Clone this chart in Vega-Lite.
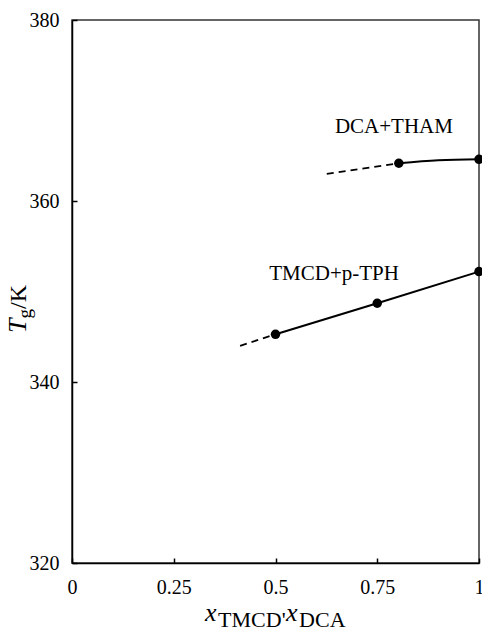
{
  "$schema": "https://vega.github.io/schema/vega-lite/v6.json",
  "width": 407,
  "height": 543,
  "autosize": {"type": "none"},
  "padding": {"left": 72, "top": 20, "right": 3, "bottom": 70},
  "background": "white",
  "config": {
    "font": "Liberation Serif, Times New Roman, serif",
    "view": {"stroke": "#333333", "strokeWidth": 1.5},
    "text": {"font": "Liberation Serif, Times New Roman, serif", "color": "black"}
  },
  "datasets": {
    "measured": [
      {"system": "TMCD+p-TPH", "x": 0.5, "Tg": 345.27},
      {"system": "TMCD+p-TPH", "x": 0.75, "Tg": 348.7},
      {"system": "TMCD+p-TPH", "x": 1.0, "Tg": 352.2},
      {"system": "DCA+THAM", "x": 0.803, "Tg": 364.17},
      {"system": "DCA+THAM", "x": 1.0, "Tg": 364.61}
    ],
    "curves": [
      {"system": "TMCD+p-TPH", "part": "extrapolated", "x": 0.413, "Tg": 344.0},
      {"system": "TMCD+p-TPH", "part": "extrapolated", "x": 0.5, "Tg": 345.27},
      {"system": "TMCD+p-TPH", "part": "fit", "x": 0.5, "Tg": 345.27},
      {"system": "TMCD+p-TPH", "part": "fit", "x": 0.75, "Tg": 348.7},
      {"system": "TMCD+p-TPH", "part": "fit", "x": 1.0, "Tg": 352.2},
      {"system": "DCA+THAM", "part": "extrapolated", "x": 0.626, "Tg": 363.0},
      {"system": "DCA+THAM", "part": "extrapolated", "x": 0.803, "Tg": 364.17},
      {"system": "DCA+THAM", "part": "fit", "x": 0.803, "Tg": 364.17},
      {"system": "DCA+THAM", "part": "fit", "x": 0.9, "Tg": 364.5},
      {"system": "DCA+THAM", "part": "fit", "x": 1.0, "Tg": 364.61}
    ],
    "labels": [
      {"name": "DCA+THAM", "x": 0.791, "Tg": 367.51},
      {"name": "TMCD+p-TPH", "x": 0.644, "Tg": 351.27}
    ],
    "single": [{}]
  },
  "layer": [
    {
      "data": {"name": "measured"},
      "mark": {"type": "point", "filled": true, "color": "black", "opacity": 1, "size": 90},
      "encoding": {
        "x": {
          "field": "x", "type": "quantitative",
          "scale": {"domain": [0, 1], "nice": false, "zero": false},
          "axis": {
            "values": [0, 0.25, 0.5, 0.75, 1], "labelExpr": "'' + datum.value", "title": null, "grid": false,
            "tickSize": -5, "tickColor": "black", "tickWidth": 1.5,
            "domainColor": "black", "domainWidth": 1.5,
            "labelFont": "Liberation Serif, Times New Roman, serif", "labelFontSize": 20, "labelColor": "black",
            "labelPadding": 19, "labelFlush": false, "labelOverlap": false
          }
        },
        "y": {
          "field": "Tg", "type": "quantitative",
          "scale": {"domain": [320, 380], "nice": false, "zero": false},
          "axis": {
            "values": [320, 340, 360, 380], "format": "d", "title": null, "grid": false,
            "tickSize": -5, "tickColor": "black", "tickWidth": 1.5,
            "domainColor": "black", "domainWidth": 1.5,
            "labelFont": "Liberation Serif, Times New Roman, serif", "labelFontSize": 20, "labelColor": "black",
            "labelPadding": 18, "labelOverlap": false
          }
        }
      }
    },
    {
      "data": {"name": "curves"},
      "transform": [{"filter": "datum.part === 'fit'"}],
      "mark": {"type": "line", "color": "black", "strokeWidth": 2, "interpolate": "monotone"},
      "encoding": {
        "x": {"field": "x", "type": "quantitative", "scale": {"domain": [0, 1]}},
        "y": {"field": "Tg", "type": "quantitative", "scale": {"domain": [320, 380]}},
        "detail": {"field": "system"}
      }
    },
    {
      "data": {"name": "curves"},
      "transform": [{"filter": "datum.part === 'extrapolated'"}],
      "mark": {"type": "line", "color": "black", "strokeWidth": 1.8, "strokeDash": [7, 5]},
      "encoding": {
        "x": {"field": "x", "type": "quantitative", "scale": {"domain": [0, 1]}},
        "y": {"field": "Tg", "type": "quantitative", "scale": {"domain": [320, 380]}},
        "detail": {"field": "system"}
      }
    },
    {
      "data": {"name": "labels"},
      "mark": {"type": "text", "fontSize": 21, "align": "center", "baseline": "alphabetic"},
      "encoding": {
        "x": {"field": "x", "type": "quantitative", "scale": {"domain": [0, 1]}},
        "y": {"field": "Tg", "type": "quantitative", "scale": {"domain": [320, 380]}},
        "text": {"field": "name"}
      }
    },
    {
      "data": {"name": "single"},
      "mark": {"type": "text", "text": "x", "fontSize": 26, "fontStyle": "italic", "align": "left", "baseline": "alphabetic"},
      "encoding": {
        "x": {"datum": 0.327, "type": "quantitative", "scale": {"domain": [0, 1]}},
        "y": {"datum": 313.6, "type": "quantitative", "scale": {"domain": [320, 380]}}
      }
    },
    {
      "data": {"name": "single"},
      "mark": {"type": "text", "text": "TMCD'", "fontSize": 22, "align": "left", "baseline": "alphabetic"},
      "encoding": {
        "x": {"datum": 0.359, "type": "quantitative", "scale": {"domain": [0, 1]}},
        "y": {"datum": 312.93, "type": "quantitative", "scale": {"domain": [320, 380]}}
      }
    },
    {
      "data": {"name": "single"},
      "mark": {"type": "text", "text": "x", "fontSize": 26, "fontStyle": "italic", "align": "left", "baseline": "alphabetic"},
      "encoding": {
        "x": {"datum": 0.526, "type": "quantitative", "scale": {"domain": [0, 1]}},
        "y": {"datum": 313.6, "type": "quantitative", "scale": {"domain": [320, 380]}}
      }
    },
    {
      "data": {"name": "single"},
      "mark": {"type": "text", "text": "DCA", "fontSize": 22, "align": "left", "baseline": "alphabetic"},
      "encoding": {
        "x": {"datum": 0.558, "type": "quantitative", "scale": {"domain": [0, 1]}},
        "y": {"datum": 312.93, "type": "quantitative", "scale": {"domain": [320, 380]}}
      }
    },
    {
      "data": {"name": "single"},
      "mark": {"type": "text", "text": "T", "fontSize": 26, "fontStyle": "italic", "align": "left", "baseline": "alphabetic", "angle": 270},
      "encoding": {
        "x": {"datum": -0.113, "type": "quantitative", "scale": {"domain": [0, 1]}},
        "y": {"datum": 345.41, "type": "quantitative", "scale": {"domain": [320, 380]}}
      }
    },
    {
      "data": {"name": "single"},
      "mark": {"type": "text", "text": "g", "fontSize": 19, "align": "left", "baseline": "alphabetic", "angle": 270},
      "encoding": {
        "x": {"datum": -0.1007, "type": "quantitative", "scale": {"domain": [0, 1]}},
        "y": {"datum": 347.02, "type": "quantitative", "scale": {"domain": [320, 380]}}
      }
    },
    {
      "data": {"name": "single"},
      "mark": {"type": "text", "text": "/K", "fontSize": 24, "align": "left", "baseline": "alphabetic", "angle": 270},
      "encoding": {
        "x": {"datum": -0.113, "type": "quantitative", "scale": {"domain": [0, 1]}},
        "y": {"datum": 348.07, "type": "quantitative", "scale": {"domain": [320, 380]}}
      }
    }
  ]
}
